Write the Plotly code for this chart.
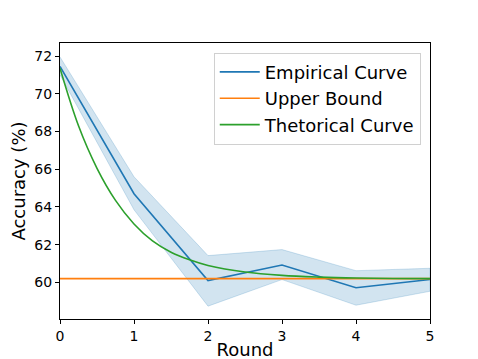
import plotly.graph_objects as go

rounds = [0, 1, 2, 3, 4, 5]
empirical = [71.45, 64.7, 60.1, 60.92, 59.72, 60.15]
emp_upper = [71.95, 65.6, 61.42, 61.74, 60.62, 60.75]
emp_lower = [71.0, 63.85, 58.74, 60.15, 58.79, 59.53]
upper_bound = [60.2, 60.2, 60.2, 60.2, 60.2, 60.2]

theory_x = [0, 0.25, 0.5, 0.75, 1, 1.25, 1.5, 1.75, 2, 2.5, 3, 3.5, 4, 4.5, 5]
theory_y = [71.35, 68.3, 66.05, 64.35, 63.1, 62.2, 61.6, 61.2, 60.9, 60.55,
            60.37, 60.28, 60.23, 60.21, 60.2]

BLUE, ORANGE, GREEN = "#1f77b4", "#ff7f0e", "#2ca02c"
FONT = "DejaVu Sans"

fig = go.Figure()

# shaded band (std) around the empirical curve
fig.add_trace(go.Scatter(
    x=rounds + rounds[::-1], y=emp_upper + emp_lower[::-1], mode="lines",
    fill="toself", fillcolor="rgba(31,119,180,0.2)",
    line=dict(color="rgba(31,119,180,0.25)", width=0.8),
    hoverinfo="skip", showlegend=False))

fig.add_trace(go.Scatter(x=rounds, y=empirical, mode="lines",
                         name="Empirical Curve", line=dict(color=BLUE, width=1.6)))
fig.add_trace(go.Scatter(x=rounds, y=upper_bound, mode="lines",
                         name="Upper Bound", line=dict(color=ORANGE, width=1.6)))
fig.add_trace(go.Scatter(x=theory_x, y=theory_y, mode="lines", line_shape="spline",
                         name="Thetorical Curve", line=dict(color=GREEN, width=1.6)))

axis_common = dict(showline=True, linecolor="black", linewidth=1, mirror=True,
                   ticks="outside", ticklen=4, tickcolor="black", tickwidth=1,
                   showgrid=False, zeroline=False, automargin=False,
                   tickfont=dict(family=FONT, size=14, color="black"))

fig.update_xaxes(range=[0, 5], tickvals=rounds,
                 title=dict(text="Round", font=dict(family=FONT, size=18, color="black"),
                            standoff=0),
                 **axis_common)
fig.update_yaxes(range=[58.06, 72.69], tickvals=[60, 62, 64, 66, 68, 70, 72],
                 title=dict(text="Accuracy (%)", font=dict(family=FONT, size=18, color="black"),
                            standoff=6),
                 **axis_common)

# the page body adds an 8px offset, so margins are shifted to compensate
fig.update_layout(
    width=478, height=359,
    margin=dict(l=52, r=56, t=35, b=48),
    plot_bgcolor="white", paper_bgcolor="white",
    font=dict(family=FONT, color="black"),
    legend=dict(x=0.975, y=0.965, xanchor="right", yanchor="top", itemwidth=40,
                bgcolor="rgba(255,255,255,0.8)", bordercolor="#d0d0d0", borderwidth=1,
                font=dict(family=FONT, size=18, color="black")),
)

fig.write_html("out.html")
